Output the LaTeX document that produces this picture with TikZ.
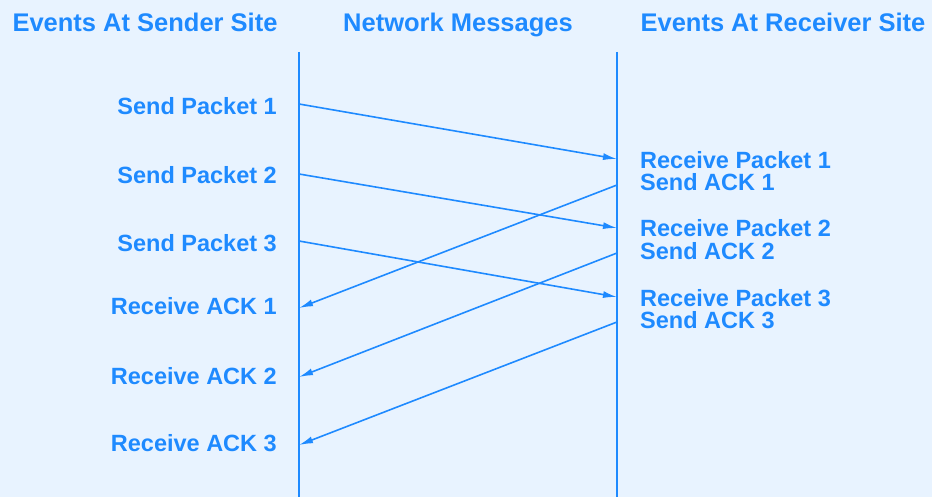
\documentclass[tikz,border=0pt]{standalone}
\usepackage{fontspec}
\setmainfont{Liberation Sans}
\usetikzlibrary{arrows.meta,positioning}
\definecolor{msgblue}{RGB}{30,138,255}
\definecolor{bgblue}{RGB}{232,243,255}

\begin{document}
\begin{tikzpicture}[x=1pt, y=-1pt,
    every node/.style={font=\bfseries\fontsize{23.5}{24}\selectfont, text=msgblue, inner sep=0pt},
    head/.style={font=\bfseries\fontsize{25.5}{26}\selectfont},
    timeline/.style={draw=msgblue, line width=2pt},
    msg/.style={draw=msgblue, line width=1.6pt, -{Latex[length=14pt,width=7pt]}}]
        % Background
        \fill[bgblue] (0,0) rectangle (932,497);
        \useasboundingbox (0,0) rectangle (932,497);
        % Column headings
        \node[head, anchor=base] (hsend) at (145,32) {Events At Sender Site};
        \node[head, anchor=base] (hnet) at (458,32) {Network Messages};
        \node[head, anchor=base] (hrecv) at (783,32) {Events At Receiver Site};
        % Time lines
        \coordinate (stop) at (299,52);
        \coordinate (sbot) at (299,497);
        \coordinate (rtop) at (617,52);
        \coordinate (rbot) at (617,497);
        \draw[timeline] (stop) -- (sbot);
        \draw[timeline] (rtop) -- (rbot);
        % Sender events
        \node[anchor=base east] (sp1) at (277,115) {Send Packet 1};
        \node[anchor=base east] (sp2) at (277,184) {Send Packet 2};
        \node[anchor=base east] (sp3) at (277,252) {Send Packet 3};
        \node[anchor=base east] (ra1) at (277,314) {Receive ACK 1};
        \node[anchor=base east] (ra2) at (277,384) {Receive ACK 2};
        \node[anchor=base east] (ra3) at (277,451) {Receive ACK 3};
        % Receiver events
        \node[anchor=base west] (rp1) at (640,169) {Receive Packet 1};
        \node[anchor=base west] (sa1) at (640,191) {Send ACK 1};
        \node[anchor=base west] (rp2) at (640,237) {Receive Packet 2};
        \node[anchor=base west] (sa2) at (640,259) {Send ACK 2};
        \node[anchor=base west] (rp3) at (640,306) {Receive Packet 3};
        \node[anchor=base west] (sa3) at (640,328) {Send ACK 3};
        % Message end points on the time lines
        \coordinate (p1out) at (299,104);
        \coordinate (p2out) at (299,174);
        \coordinate (p3out) at (299,241);
        \coordinate (p1in) at (617,159);
        \coordinate (p2in) at (617,228);
        \coordinate (p3in) at (617,297);
        \coordinate (a1out) at (617,185);
        \coordinate (a2out) at (617,253);
        \coordinate (a3out) at (617,322);
        \coordinate (a1in) at (299,308);
        \coordinate (a2in) at (299,377);
        \coordinate (a3in) at (299,445);
        % Packets
        \draw[msg] (p1out) -- (p1in);
        \draw[msg] (p2out) -- (p2in);
        \draw[msg] (p3out) -- (p3in);
        % Acknowledgements
        \draw[msg] (a1out) -- (a1in);
        \draw[msg] (a2out) -- (a2in);
        \draw[msg] (a3out) -- (a3in);
    \end{tikzpicture}
\end{document}
